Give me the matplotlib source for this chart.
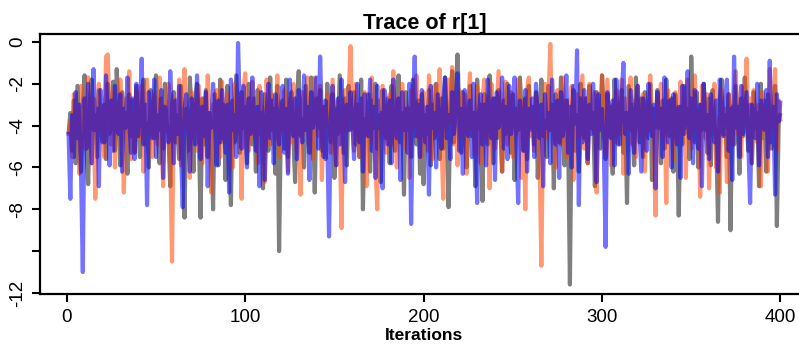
import numpy as np
import matplotlib
matplotlib.use("Agg")
import matplotlib.pyplot as plt

plt.rcParams['font.family'] = ['Liberation Sans', 'DejaVu Sans']

chain_gray = [
 -4.4, -3.4, -5.2, -2.8, -5.8, -2.1, -4.1, -6.2, -3.1, -1.6, -4.9, -6.8, -2.7, -1.8, -4.2, -3.5, -5.5, -2.3, -3.9, -4.8,
 -3.0, -5.6, -2.0, -4.4, -3.7, -1.9, -5.2, -1.3, -3.2, -5.9, -2.4, -4.1, -3.4, -6.3, -2.5, -4.5, -2.8, -5.3, -2.1, -3.8,
 -5.5, -3.1, -1.8, -4.9, -3.9, -6.0, -2.3, -3.5, -4.6, -1.6, -3.9, -5.8, -2.7, -5.1, -2.0, -3.8, -4.5, -6.9, -3.0, -2.4,
 -4.8, -3.5, -5.6, -2.1, -4.1, -8.4, -3.2, -5.2, -1.7, -3.7, -6.2, -2.8, -2.0, -4.4, -8.4, -2.7, -4.9, -2.3, -5.5, -3.4,
 -4.2, -8.0, -2.5, -3.8, -5.9, -1.8, -4.6, -3.0, -6.6, -2.1, -3.9, -7.8, -2.8, -4.8, -1.6, -3.5, -5.3, -2.4, -4.1, -3.1,
 -5.8, -2.0, -3.8, -4.9, -2.7, -6.2, -2.3, -4.4, -3.4, -7.0, -2.5, -3.7, -5.2, -1.7, -4.2, -3.2, -6.3, -2.1, -10.0, -3.9,
 -2.8, -5.1, -1.8, -5.5, -3.5, -2.4, -4.6, -6.7, -3.0, -1.4, -4.5, -3.7, -6.0, -2.1, -3.9, -5.3, -1.7, -3.4, -7.2, -2.7,
 -4.1, -2.3, -5.2, -3.1, -5.6, -2.0, -3.8, -4.8, -2.5, -6.5, -3.2, -4.4, -1.6, -3.5, -5.3, -2.7, -5.9, -2.1, -4.2, -3.4,
 -2.4, -4.9, -3.0, -5.5, -1.8, -8.0, -3.7, -4.5, -2.5, -6.2, -2.8, -4.1, -2.0, -5.1, -3.5, -6.7, -2.3, -3.9, -4.6, -2.7,
 -5.8, -2.1, -3.8, -5.2, -3.1, -1.6, -4.8, -3.4, -7.3, -2.4, -4.2, -3.2, -5.5, -1.8, -3.9, -4.9, -2.8, -6.3, -2.5, -6.8,
 -3.5, -4.4, -2.3, -5.9, -3.0, -4.6, -2.0, -3.9, -5.6, -2.7, -5.1, -1.7, -3.7, -7.9, -3.2, -1.4, -4.8, -2.8, -0.6, -3.5,
 -5.3, -2.4, -3.8, -6.0, -3.1, -2.1, -4.5, -3.4, -6.9, -1.8, -4.1, -3.0, -7.6, -2.5, -3.9, -4.9, -1.6, -3.5, -5.8, -2.7,
 -4.6, -2.3, -3.8, -6.2, -2.8, -4.4, -2.0, -3.7, -5.3, -2.5, -6.6, -3.2, -4.2, -1.7, -3.5, -5.2, -2.7, -5.6, -2.1, -4.1,
 -3.1, -4.9, -2.4, -6.5, -3.4, -1.8, -4.5, -3.8, -5.5, -2.1, -4.2, -3.0, -7.0, -2.5, -3.7, -4.8, -1.7, -3.9, -5.9, -2.8,
 -4.4, -11.6, -3.2, -2.3, -5.2, -3.5, -6.2, -2.0, -3.9, -4.6, -2.7, -5.8, -2.1, -4.1, -3.4, -6.9, -2.4, -3.8, -5.1, -1.6,
 -3.5, -5.6, -2.5, -4.5, -3.1, -6.3, -1.8, -3.9, -4.9, -2.8, -2.3, -5.3, -3.4, -7.7, -2.1, -4.2, -3.0, -5.9, -1.7, -3.8,
 -4.8, -2.7, -5.5, -2.4, -3.7, -4.6, -2.0, -6.6, -3.2, -4.1, -2.3, -3.5, -5.8, -2.8, -5.1, -1.8, -3.9, -4.5, -2.7, -6.2,
 -2.5, -3.8, -8.3, -3.1, -4.9, -2.1, -4.1, -3.2, -5.6, -0.7, -3.7, -4.8, -2.4, -6.0, -3.0, -4.2, -2.0, -3.5, -5.3, -2.7,
 -5.9, -2.3, -3.9, -4.6, -8.6, -2.8, -1.8, -4.4, -3.5, -5.5, -2.5, -9.0, -3.1, -4.9, -2.1, -3.8, -6.3, -2.7, -4.5, -1.7,
 -3.7, -5.2, -3.0, -5.8, -2.4, -4.1, -3.4, -6.9, -2.0, -4.6, -2.8, -6.2, -2.5, -3.8, -5.1, -3.1, -2.1, -8.8, -3.9, -3.4,
]

chain_orange = [
 -4.5, -3.8, -5.5, -2.5, -4.4, -3.2, -6.3, -2.1, -3.9, -5.1, -2.8, -1.7, -4.6, -5.8, -2.7, -7.5, -3.5, -2.0, -4.2, -3.1,
 -5.5, -0.7, -0.6, -3.8, -4.9, -2.4, -6.0, -3.0, -4.1, -1.8, -3.7, -7.2, -2.7, -4.5, -1.4, -5.6, -3.4, -5.2, -2.3, -3.9,
 -4.6, -2.1, -6.2, -2.8, -1.8, -4.4, -3.2, -5.5, -2.5, -3.8, -4.9, -1.7, -3.5, -6.9, -3.0, -4.2, -2.0, -5.3, -10.5, -2.7,
 -3.7, -4.8, -1.8, -5.9, -3.1, -1.3, -4.1, -3.5, -6.5, -2.4, -4.5, -2.8, -5.2, -2.1, -3.9, -5.8, -2.7, -4.6, -1.6, -3.4,
 -7.2, -3.0, -4.2, -2.3, -3.8, -5.5, -1.9, -4.8, -3.2, -2.5, -5.1, -3.5, -6.0, -2.0, -3.9, -4.4, -2.7, -7.5, -2.4, -1.5,
 -3.7, -5.2, -2.8, -1.9, -4.5, -3.4, -5.8, -2.1, -4.1, -3.1, -6.7, -1.8, -3.8, -4.9, -2.5, -3.5, -4.6, -1.6, -5.5, -3.0,
 -4.2, -2.3, -3.9, -6.2, -2.7, -4.8, -2.0, -3.7, -5.2, -3.2, -7.3, -2.4, -4.4, -2.8, -1.7, -4.9, -3.4, -5.6, -1.7, -3.8,
 -4.5, -2.1, -6.6, -3.1, -4.1, -2.5, -3.5, -5.3, -1.8, -3.9, -5.9, -2.8, -4.6, -8.9, -3.4, -2.3, -4.2, -2.7, -0.2, -3.7,
 -5.2, -2.0, -3.8, -5.5, -3.0, -4.5, -2.4, -6.9, -3.5, -4.8, -1.7, -3.9, -5.8, -8.0, -2.8, -4.4, -2.1, -3.7, -5.3, -3.2,
 -2.5, -4.9, -1.4, -3.8, -6.0, -2.7, -4.2, -2.0, -3.5, -5.1, -3.1, -6.5, -2.3, -4.1, -3.4, -1.6, -4.6, -2.8, -5.5, -2.4,
 -3.9, -5.2, -1.6, -3.2, -5.6, -2.1, -4.4, -3.7, -1.3, -4.8, -7.5, -3.0, -4.1, -1.8, -3.8, -1.2, -4.9, -2.7, -5.9, -2.3,
 -3.5, -4.5, -2.5, -6.3, -3.1, -1.5, -4.2, -3.4, -5.3, -2.1, -3.8, -5.8, -2.8, -1.8, -4.6, -2.7, -7.0, -2.0, -3.9, -5.1,
 -3.2, -1.4, -4.1, -6.2, -3.0, -1.9, -4.9, -3.7, -2.4, -5.5, -3.4, -4.4, -1.8, -3.9, -6.5, -2.8, -8.0, -2.3, -1.7, -4.5,
 -3.5, -5.2, -2.5, -3.1, -5.6, -10.7, -3.8, -2.0, -4.6, -2.7, -0.1, -4.2, -3.2, -6.0, -2.3, -3.9, -4.9, -1.7, -3.4, -5.5,
 -2.8, -4.4, -2.1, -6.6, -3.7, -2.5, -4.6, -3.1, -1.6, -5.1, -2.7, -5.8, -2.0, -3.8, -4.2, -2.4, -7.2, -3.2, -4.1, -1.6,
 -3.5, -5.3, -1.8, -3.9, -5.9, -3.0, -4.8, -2.3, -3.4, -4.4, -1.8, -6.3, -2.7, -4.1, -3.7, -1.7, -4.9, -2.8, -5.5, -2.1,
 -3.8, -4.5, -2.5, -6.2, -3.1, -4.2, -1.6, -3.5, -5.2, -8.3, -2.7, -3.9, -2.0, -4.6, -3.2, -7.7, -2.3, -4.1, -3.0, -5.6,
 -2.4, -4.8, -3.5, -1.9, -4.4, -2.7, -6.5, -1.8, -3.8, -5.1, -3.1, -1.6, -4.2, -3.4, -7.4, -2.1, -3.9, -4.6, -2.5, -7.0,
 -3.0, -4.1, -2.0, -6.0, -3.7, -7.2, -2.3, -4.5, -3.2, -6.7, -2.5, -3.8, -4.9, -2.8, -1.4, -4.4, -3.4, -5.5, -2.1, -3.9,
 -0.8, -4.6, -2.7, -5.8, -2.3, -3.7, -4.8, -3.0, -6.9, -2.4, -4.2, -3.2, -6.2, -1.3, -4.1, -3.5, -1.3, -5.2, -2.8, -3.8,
]

chain_blue = [
 -4.3, -7.5, -3.5, -5.5, -2.4, -4.6, -3.0, -6.3, -11.0, -2.7, -5.1, -2.0, -3.9, -5.8, -1.3, -4.2, -3.2, -6.9, -2.3, -3.8,
 -4.8, -1.6, -3.5, -5.9, -2.8, -5.2, -2.1, -3.9, -4.4, -2.5, -6.2, -3.2, -4.1, -1.7, -3.7, -5.3, -2.7, -5.6, -2.0, -4.5,
 -3.4, -0.8, -4.9, -3.0, -7.8, -2.4, -3.9, -4.6, -1.8, -5.5, -3.5, -4.2, -2.3, -6.5, -3.1, -3.8, -4.8, -1.4, -3.5, -5.8,
 -2.8, -4.4, -2.1, -5.2, -7.9, -3.2, -2.5, -4.1, -6.2, -2.7, -3.7, -4.9, -1.6, -3.9, -5.6, -3.1, -4.5, -2.4, -6.9, -3.4,
 -4.1, -2.0, -3.7, -5.9, -2.8, -4.8, -2.3, -3.8, -5.3, -3.0, -7.2, -1.8, -4.2, -3.5, -5.5, -0.05, -3.2, -5.1, -2.1, -3.9,
 -6.0, -2.7, -4.4, -1.7, -3.7, -5.2, -3.1, -6.9, -2.4, -4.1, -6.6, -3.4, -2.0, -4.6, -2.8, -5.8, -2.5, -3.8, -4.9, -3.0,
 -2.1, -5.3, -3.2, -6.3, -1.8, -3.9, -4.5, -2.7, -5.6, -2.3, -3.5, -4.8, -1.6, -4.2, -3.1, -6.6, -2.4, -4.1, -3.4, -1.7,
 -5.1, -0.7, -3.8, -5.5, -2.8, -4.6, -9.3, -3.5, -2.1, -4.4, -5.9, -2.7, -4.9, -1.8, -3.9, -6.7, -3.0, -4.2, -2.4, -3.7,
 -5.6, -3.2, -2.0, -4.8, -2.7, -6.2, -2.5, -3.8, -4.5, -1.8, -5.2, -3.1, -6.5, -2.1, -4.1, -3.4, -7.0, -2.3, -3.9, -4.9,
 -2.8, -5.8, -1.8, -3.7, -4.6, -2.7, -6.6, -2.4, -4.2, -3.2, -5.3, -2.0, -8.7, -3.5, -0.7, -4.5, -3.0, -5.5, -2.3, -3.8,
 -4.8, -3.1, -7.3, -2.1, -4.1, -3.4, -6.0, -2.5, -3.9, -5.1, -2.8, -1.7, -4.6, -3.5, -5.6, -2.4, -4.4, -2.7, -1.5, -5.2,
 -3.2, -6.3, -2.3, -3.8, -4.5, -2.8, -5.5, -2.0, -4.2, -7.7, -3.4, -2.5, -4.9, -3.0, -5.9, -1.8, -3.9, -4.6, -2.7, -6.6,
 -2.4, -4.1, -3.5, -1.7, -5.1, -3.1, -5.6, -2.1, -4.4, -3.7, -1.7, -4.8, -7.7, -2.8, -3.9, -5.2, -2.3, -6.2, -3.2, -4.2,
 -2.7, -5.5, -2.0, -3.8, -4.6, -3.0, -6.9, -2.5, -4.1, -3.4, -5.8, -1.8, -3.7, -4.9, -2.8, -6.5, -2.4, -4.5, -3.5, -1.6,
 -5.3, -3.1, -6.0, -2.1, -3.9, -0.4, -7.8, -2.7, -4.8, -2.3, -3.5, -5.6, -3.0, -4.4, -2.0, -3.8, -6.7, -2.5, -4.2, -3.2,
 -5.1, -9.8, -2.4, -3.7, -4.6, -2.8, -5.9, -1.8, -3.9, -4.9, -2.7, -1.0, -4.4, -3.4, -6.3, -2.3, -3.8, -5.3, -3.1, -2.1,
 -4.2, -6.2, -2.7, -3.5, -5.2, -2.0, -3.9, -4.5, -3.0, -7.0, -2.4, -4.1, -3.2, -5.5, -1.7, -3.7, -4.8, -2.8, -6.0, -2.5,
 -3.8, -4.9, -3.1, -6.5, -2.1, -4.4, -3.4, -1.4, -4.6, -2.7, -5.8, -2.3, -3.9, -5.1, -3.0, -6.9, -2.0, -4.2, -3.5, -5.6,
 -2.5, -3.8, -4.8, -2.8, -6.2, -1.8, -3.7, -4.5, -2.7, -1.8, -5.2, -3.2, -6.6, -0.7, -4.1, -3.1, -5.5, -2.1, -4.4, -3.4,
 -2.4, -4.9, -7.7, -3.0, -3.9, -4.6, -2.0, -5.9, -2.8, -3.7, -4.2, -2.3, -5.5, -0.9, -4.8, -3.1, -7.3, -2.5, -3.8, -2.8,
]

x_ticks = [0, 100, 200, 300, 400]
y_ticks = [0, -2, -4, -6, -8, -10, -12]
y_ticklabels = ["0", "-2", "-4", "-6", "-8", "", "-12"]
title = "Trace of r[1]"
xlabel = "Iterations"

W, H = 799, 352
fig = plt.figure(figsize=(W / 100, H / 100), dpi=100)
ax = fig.add_axes([40 / W, 1 - 294 / H, (809 - 40) / W, (294 - 34) / H])

iters = np.arange(1, len(chain_gray) + 1)
ax.plot(iters, chain_gray, color=(0, 0, 0, 0.5), lw=3, solid_capstyle='butt')
ax.plot(iters, chain_orange, color=(1.0, 0.27, 0.0, 0.55), lw=3, solid_capstyle='butt')
ax.plot(iters, chain_blue, color=(0.0, 0.0, 1.0, 0.55), lw=3, solid_capstyle='butt')

ax.set_xlim(-15, 416)
ax.set_ylim(-12.05, 0.38)
ax.set_xticks(x_ticks)
ax.set_xticklabels([str(t) for t in x_ticks], fontsize=13.5)
ax.set_yticks(y_ticks)
ax.set_yticklabels(y_ticklabels, fontsize=13.5, rotation=90, va='center')
ax.tick_params(axis='both', direction='out', length=6, width=1.5)
ax.tick_params(axis='x', pad=5)
ax.tick_params(axis='y', pad=4)
for s in ax.spines.values():
    s.set_linewidth(1.6)

ax.set_title(title, fontsize=15.5, fontweight='bold', pad=3)
ax.set_xlabel(xlabel, fontsize=12.5, fontweight='bold', labelpad=1)

fig.savefig("out.png", dpi=100)
